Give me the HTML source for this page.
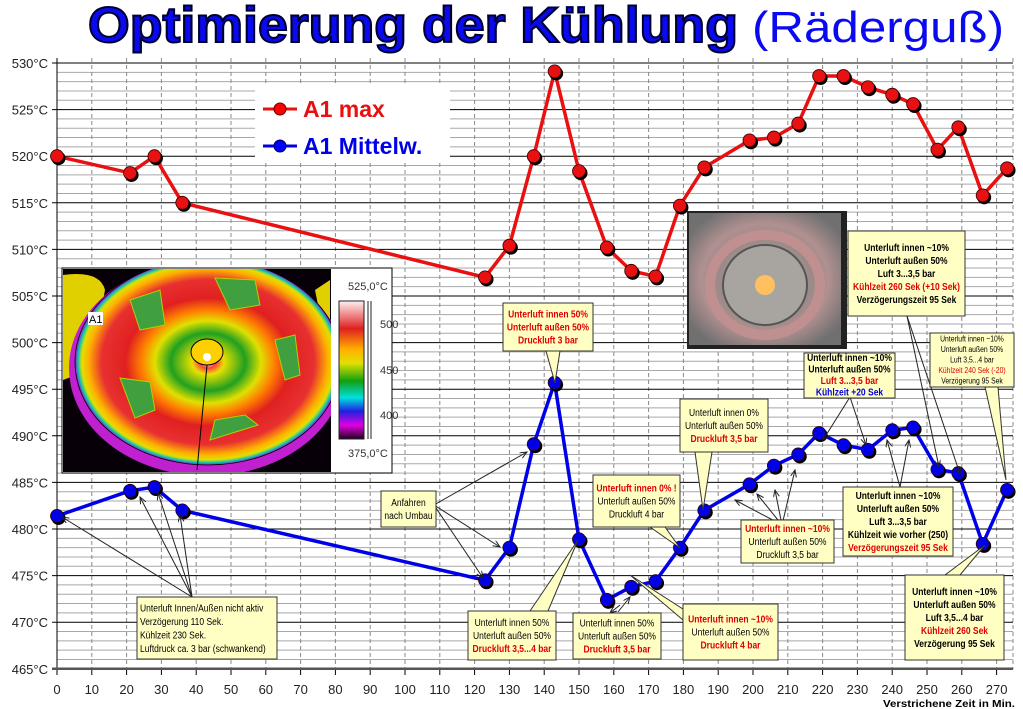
<!DOCTYPE html>
<html><head><meta charset="utf-8"><style>
html,body{margin:0;padding:0;background:#fff;}
svg{display:block;}
text{font-family:"Liberation Sans",sans-serif;}
.n{font-family:"Liberation Sans Narrow","Liberation Sans",sans-serif;font-size:10px;}
.b{font-weight:bold;}
.r{fill:#e00000;}
.bl{fill:#0000e0;}
</style></head><body>
<svg id="s" width="1023" height="709" xmlns="http://www.w3.org/2000/svg">
<defs>
<radialGradient id="th" cx="0.5" cy="0.5" r="0.5">
<stop offset="0" stop-color="#fff"/>
<stop offset="0.06" stop-color="#ff4040"/>
<stop offset="0.12" stop-color="#e8e000"/>
<stop offset="0.28" stop-color="#20a020"/>
<stop offset="0.4" stop-color="#e0e000"/>
<stop offset="0.5" stop-color="#ff8000"/>
<stop offset="0.62" stop-color="#e02020"/>
<stop offset="0.8" stop-color="#e83030"/>
<stop offset="0.9" stop-color="#ffb000"/>
<stop offset="0.95" stop-color="#e0e000"/>
<stop offset="0.98" stop-color="#00c0c0"/>
<stop offset="1" stop-color="#c000c0"/>
</radialGradient>
<linearGradient id="sc" x1="0" y1="0" x2="0" y2="1">
<stop offset="0" stop-color="#fff0f0"/>
<stop offset="0.2" stop-color="#e02020"/>
<stop offset="0.35" stop-color="#ffb000"/>
<stop offset="0.45" stop-color="#e0e000"/>
<stop offset="0.58" stop-color="#10a010"/>
<stop offset="0.7" stop-color="#00e0e0"/>
<stop offset="0.8" stop-color="#2020e0"/>
<stop offset="0.9" stop-color="#e000e0"/>
<stop offset="1" stop-color="#200020"/>
</linearGradient>
<radialGradient id="ph" cx="0.5" cy="0.5" r="0.6">
<stop offset="0" stop-color="#ffd080"/>
<stop offset="0.1" stop-color="#b0a8a0"/>
<stop offset="0.5" stop-color="#9a8a88"/>
<stop offset="0.7" stop-color="#b09090"/>
<stop offset="1" stop-color="#707070"/>
</radialGradient>
<marker id="ar" markerWidth="8" markerHeight="8" refX="7" refY="3" orient="auto"><path d="M0,0 L7,3 L0,6" fill="none" stroke="#222" stroke-width="1"/></marker>
</defs>
<g id="grid"></g>
<g id="series"></g>
<g id="over"></g>
</svg>
<script>
const X=t=>57+t*3.48, Y=v=>63+(530-v)*9.32;
let h='';
for(let v=466;v<530;v++){ if(v%5) h+=`<line x1="57" x2="1013" y1="${Y(v)}" y2="${Y(v)}" stroke="#a8a8a8" stroke-width="1"/>`;}
for(let t=10;t<=270;t+=10) h+=`<line x1="${X(t)}" x2="${X(t)}" y1="58" y2="669" stroke="#888" stroke-dasharray="4,3" stroke-width="1"/>`;
h+=`<line x1="1013" x2="1013" y1="58" y2="669" stroke="#888" stroke-dasharray="4,3"/>`;
for(let v=470;v<=530;v+=5) h+=`<line x1="52" x2="1013" y1="${Y(v)}" y2="${Y(v)}" stroke="#000" stroke-width="1"/>`;
for(let v=465;v<=530;v+=5) h+=`<text x="48" y="${Y(v)+5}" text-anchor="end" font-size="13" fill="#222">${v}°C</text>`;
h+=`<line x1="57" x2="57" y1="58" y2="670" stroke="#000"/>`;
h+=`<line x1="52" x2="1013" y1="${Y(465)}" y2="${Y(465)}" stroke="#555" stroke-width="2.5"/>`;
for(let t=0;t<=270;t+=10){h+=`<line x1="${X(t)}" x2="${X(t)}" y1="670" y2="675" stroke="#000"/><text x="${X(t)}" y="694" text-anchor="middle" font-size="13" fill="#222">${t}</text>`;}
h+=`<text x="1015" y="707" text-anchor="end" font-size="10" font-weight="bold" class="n" textLength="132" lengthAdjust="spacingAndGlyphs">Verstrichene Zeit in Min.</text>`;
document.getElementById('grid').innerHTML=h;
const T=[0,21,28,36,123,130,137,143,150,158,165,172,179,186,199,206,213,219,226,233,240,246,253,259,266,273];
const R=[520,518.2,520,515,507,510.4,520,529.1,518.4,510.2,507.7,507.1,514.7,518.8,521.7,522,523.5,528.6,528.6,527.4,526.6,525.6,520.7,523.1,515.8,518.7];
const B=[481.4,484.1,484.5,482,474.5,478,489.1,495.7,478.9,472.4,473.8,474.4,478,482,484.8,486.8,488,490.3,489,488.5,490.6,490.9,486.4,486,478.4,484.2];
let s='';
function ser(V,c){let p=T.map((t,i)=>X(t)+','+Y(V[i])).join(' ');
 s+=`<polyline points="${p}" fill="none" stroke="${c}" stroke-width="3.5"/>`;
 T.forEach((t,i)=>{s+=`<circle cx="${X(t)+1.5}" cy="${Y(V[i])+2}" r="7" fill="#000"/><circle cx="${X(t)}" cy="${Y(V[i])}" r="6.5" fill="${c}" stroke="#300" stroke-width="0.8"/>`;});}
ser(R,'#e81010');ser(B,'#0000e8');
document.getElementById('series').innerHTML=s;
let o='';
o+=`<rect x="0" y="0" width="1023" height="56" fill="#fff"/>`;
o+=`<text x="88" y="42" font-size="50" font-weight="900" fill="#0a0af0" stroke="#000030" stroke-width="2" textLength="650" lengthAdjust="spacingAndGlyphs">Optimierung der Kühlung</text>`;
o+=`<text x="752" y="42" font-size="44" fill="#0a0af0" textLength="252" lengthAdjust="spacingAndGlyphs">(Räderguß)</text>`;
o+=`<rect x="255" y="86" width="195" height="77" fill="#fff"/>`;
o+=`<line x1="263" x2="297" y1="109" y2="109" stroke="#e81010" stroke-width="3"/><circle cx="280" cy="109" r="6" fill="#f00" stroke="#600"/>`;
o+=`<text x="303" y="117" font-size="23" font-weight="bold" fill="#e81010">A1 max</text>`;
o+=`<line x1="263" x2="297" y1="146" y2="146" stroke="#0000e8" stroke-width="3"/><circle cx="280" cy="146" r="6" fill="#00f" stroke="#006"/>`;
o+=`<text x="303" y="154" font-size="23" font-weight="bold" fill="#0000e8">A1 Mittelw.</text>`;
o+=`<rect x="62" y="268" width="330" height="205" fill="#fff" stroke="#000"/>`;
o+=`<rect x="63" y="269" width="268" height="203" fill="#080008"/>`;
o+=`<clipPath id="cp"><rect x="63" y="269" width="268" height="203"/></clipPath>`;
o+=`<g clip-path="url(#cp)"><path d="M63,275 Q100,270 105,290 L90,370 L63,380Z" fill="#e0d000"/><path d="M330,280 L315,290 L325,340 L330,345Z" fill="#e0d000"/>`;
o+=`<ellipse cx="207" cy="368" rx="138" ry="108" fill="#c020d0"/><ellipse cx="208" cy="362" rx="133" ry="103" fill="url(#th)" stroke="#000" stroke-width="0.8"/>`;
o+=`<polygon points="130,300 160,290 165,325 140,330" fill="#40a040" stroke="#b0d000"/><polygon points="215,278 255,280 260,305 230,310" fill="#40a040" stroke="#b0d000"/><polygon points="275,340 295,335 300,375 285,380" fill="#40a040" stroke="#b0d000"/><polygon points="120,378 150,382 155,410 135,418" fill="#40a040" stroke="#b0d000"/><polygon points="215,420 245,415 258,425 210,440" fill="#40a040" stroke="#b0d000"/>`;
o+=`<ellipse cx="207" cy="352" rx="16" ry="13" fill="#ffd000" stroke="#000"/><circle cx="207" cy="357" r="4" fill="#fff"/><line x1="207" y1="365" x2="197" y2="470" stroke="#000"/></g>`;
o+=`<rect x="88" y="312" width="15" height="13" fill="#fff"/><text x="89" y="323" font-size="11">A1</text>`;
o+=`<text x="348" y="290" font-size="11" fill="#333">525,0°C</text><text x="348" y="457" font-size="11" fill="#333">375,0°C</text>`;
o+=`<rect x="339" y="301" width="25" height="138" fill="url(#sc)" stroke="#222"/>`;
o+=`<line x1="368" x2="368" y1="301" y2="439" stroke="#222"/><line x1="371" x2="371" y1="301" y2="439" stroke="#222"/>`;
o+=`<text x="380" y="328" font-size="11" fill="#333">500</text><text x="380" y="374" font-size="11" fill="#333">450</text><text x="380" y="419" font-size="11" fill="#333">400</text>`;
o+=`<rect x="687" y="211" width="160" height="138" fill="#222"/><rect x="689" y="213" width="152" height="132" fill="url(#ph)"/><ellipse cx="765" cy="285" rx="55" ry="50" fill="none" stroke="#c09090" stroke-width="10"/><ellipse cx="765" cy="285" rx="42" ry="40" fill="#a8a4a0" stroke="#555" stroke-width="2"/><circle cx="765" cy="285" r="10" fill="#ffc060"/>`;
function box(x,y,w,hh,lines,opt={}){let r=`<rect x="${x}" y="${y}" width="${w}" height="${hh}" fill="#ffffc4" stroke="#333" stroke-width="1"/>`;
 const lh=opt.lh||13,fs=opt.fs||10;let yy=y+(hh-lines.length*lh)/2+lh-3;
 lines.forEach(l=>{const anc=opt.left?'start':'middle';const xx=opt.left?x+3:x+w/2;
  r+=`<text x="${xx}" y="${yy}" text-anchor="${anc}" class="n fit ${l[1]||''}" data-w="${w-6}" style="font-size:${fs}px">${l[0]}</text>`;yy+=lh;});return r;}
function tri(x1,x2,bx,by,px,py){return `<polygon points="${x1},${by} ${x2},${by} ${px},${py}" fill="#ffffc4" stroke="#333"/>`;}
function arr(x1,y1,x2,y2){return `<line x1="${x1}" y1="${y1}" x2="${x2}" y2="${y2}" stroke="#222" stroke-width="1" marker-end="url(#ar)"/>`;}
o+=arr(192,597,62,517)+arr(192,597,140,497)+arr(192,597,158,493)+arr(192,597,180,515);
o+=arr(434,505,527,452)+arr(434,505,500,547)+arr(434,505,483,578);
o+=arr(620,605,610,613)+arr(618,612,630,597);
o+=arr(782,525,735,500)+arr(782,525,757,494)+arr(782,525,775,490)+arr(782,525,795,470);
o+=arr(850,397,823,440)+arr(850,397,866,445);
o+=arr(900,487,887,440)+arr(900,487,909,440);
o+=arr(907,316,939,467)+arr(907,316,960,474);
o+=box(137,597,140,62,[['Unterluft Innen/Außen nicht aktiv'],['Verzögerung 110 Sek.'],['Kühlzeit 230 Sek.'],['Luftdruck ca. 3 bar (schwankend)']],{left:1,lh:13.5});
o+=box(381,491,55,36,[['Anfahren'],['nach Umbau']]);
o+=tri(546,560,0,351,555,383)+box(503,303,90,48,[['Unterluft innen 50%','b r'],['Unterluft außen 50%','b r'],['Druckluft 3 bar','b r']]);
o+=tri(530,548,0,611,578,540)+box(468,611,88,49,[['Unterluft innen 50%'],['Unterluft außen 50%'],['Druckluft 3,5...4 bar','b r']]);
o+=box(573,613,88,46,[['Unterluft innen 50%'],['Unterluft außen 50%'],['Druckluft 3,5 bar','b r']]);
o+=tri(650,665,0,527,680,548)+box(593,475,87,52,[['Unterluft innen 0% !','b r'],['Unterluft außen 50%'],['Druckluft 4 bar']]);
o+=tri(695,712,0,452,703,510)+box(680,399,88,53,[['Unterluft innen 0%'],['Unterluft außen 50%'],['Druckluft 3,5 bar','b r']]);
o+=tri(683,700,0,620,630,575)+box(683,604,95,56,[['Unterluft innen ~10%','b r'],['Unterluft außen 50%'],['Druckluft 4 bar','b r']]);
o+=box(741,520,93,43,[['Unterluft innen ~10%','b r'],['Unterluft außen 50%'],['Druckluft 3,5 bar']]);
o+=box(804,353,91,45,[['Unterluft innen ~10%','b'],['Unterluft außen 50%','b'],['Luft 3...3,5 bar','b r'],['Kühlzeit +20 Sek','b bl']],{lh:11.5});
o+=box(848,231,117,85,[['Unterluft innen ~10%','b'],['Unterluft außen 50%','b'],['Luft 3...3,5 bar','b'],['Kühlzeit 260 Sek (+10 Sek)','b r'],['Verzögerungszeit 95 Sek','b']]);
o+=tri(985,998,0,387,1006,480)+box(930,333,84,54,[['Unterluft innen ~10%'],['Unterluft außen 50%'],['Luft 3,5...4 bar'],['Kühlzeit 240 Sek (-20)','r'],['Verzögerung 95 Sek']],{fs:8,lh:10.5});
o+=box(843,487,110,69,[['Unterluft innen ~10%','b'],['Unterluft außen 50%','b'],['Luft 3...3,5 bar','b'],['Kühlzeit wie vorher (250)','b'],['Verzögerungszeit 95 Sek','b r']]);
o+=tri(945,960,0,575,985,545)+box(905,575,99,85,[['Unterluft innen ~10%','b'],['Unterluft außen 50%','b'],['Luft 3,5...4 bar','b'],['Kühlzeit 260 Sek','b r'],['Verzögerung 95 Sek','b']]);
document.getElementById('over').innerHTML=o;
document.querySelectorAll('text.fit').forEach(t=>{const w=+t.getAttribute('data-w');const L=t.getComputedTextLength();const tgt=Math.min(L*0.85,w);t.setAttribute('textLength',tgt);t.setAttribute('lengthAdjust','spacingAndGlyphs');});
</script>
</body></html>
